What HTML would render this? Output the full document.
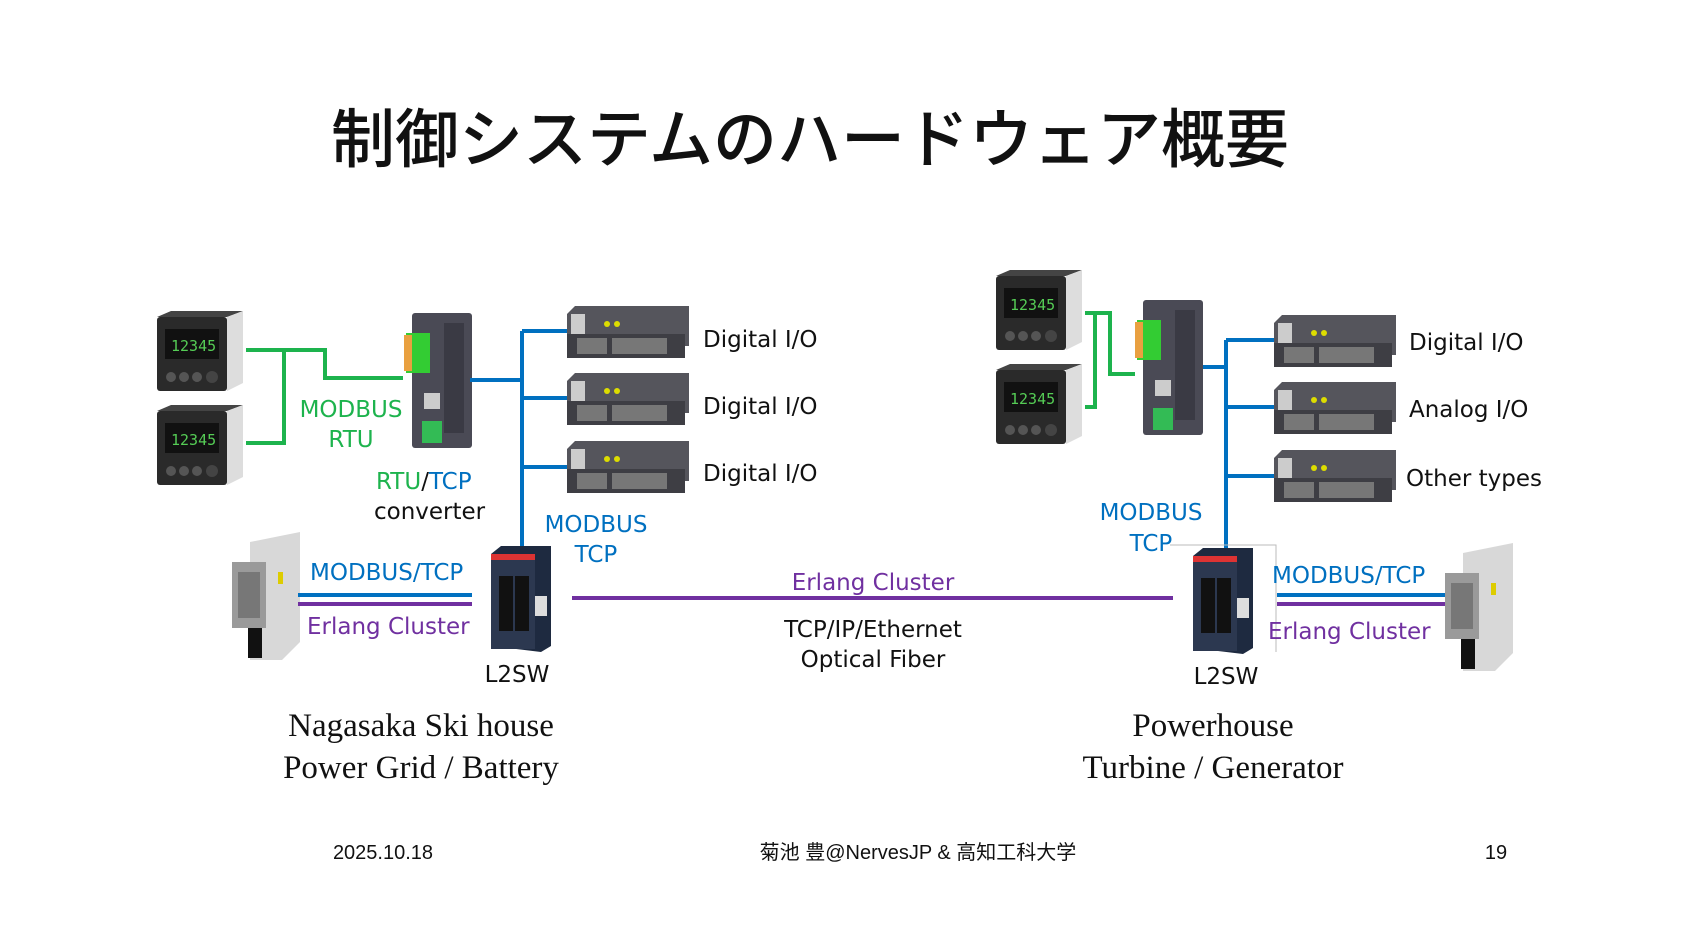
<!DOCTYPE html>
<html><head><meta charset="utf-8"><style>
html,body{margin:0;padding:0;background:#fff;}
svg{display:block;}
.l{font-family:"DejaVu Sans","Liberation Sans",sans-serif;font-size:23px;}
.s{font-family:"Liberation Serif",serif;font-size:33px;fill:#111;}
.f{font-family:"Liberation Sans","Noto Sans CJK JP",sans-serif;font-size:20px;fill:#111;}
</style></head><body>
<svg width="1684" height="947" viewBox="0 0 1684 947" xmlns="http://www.w3.org/2000/svg">
<defs>
<g id="ctl">
  <rect x="0" y="6" width="70" height="74" rx="3" fill="#2a2a2a"/>
  <polygon points="0,6 14,0 86,0 70,6" fill="#444"/>
  <polygon points="70,6 86,0 86,72 70,80" fill="#ddd"/>
  <rect x="8" y="18" width="54" height="30" fill="#111"/>
  <text x="14" y="40" font-family="DejaVu Sans Mono,monospace" font-size="15" fill="#5c5">12345</text>
  <circle cx="14" cy="66" r="5" fill="#555"/><circle cx="27" cy="66" r="5" fill="#555"/><circle cx="40" cy="66" r="5" fill="#555"/><circle cx="55" cy="66" r="6" fill="#444"/>
</g>
<g id="conv">
  <rect x="0" y="0" width="60" height="135" rx="3" fill="#4a4a55"/>
  <rect x="32" y="10" width="20" height="110" fill="#3a3a44"/>
  <rect x="-6" y="20" width="24" height="40" fill="#3c3"/>
  <rect x="-8" y="22" width="8" height="36" fill="#e9a040"/>
  <rect x="12" y="80" width="16" height="16" fill="#ccc"/>
  <rect x="10" y="108" width="20" height="22" fill="#3b5"/>
</g>
<g id="io">
  <polygon points="0,8 8,0 122,0 122,40 0,40" fill="#55555c"/>
  <rect x="0" y="28" width="118" height="24" fill="#3e3e44"/>
  <rect x="4" y="8" width="14" height="20" fill="#ccc"/>
  <circle cx="40" cy="18" r="3" fill="#dd0"/><circle cx="50" cy="18" r="3" fill="#dd0"/>
  <rect x="10" y="32" width="30" height="16" fill="#777"/><rect x="45" y="32" width="55" height="16" fill="#777"/>
</g>
<g id="sw">
  <polygon points="0,8 10,0 60,0 60,100 50,106 0,100" fill="#1e2a40"/>
  <rect x="0" y="8" width="44" height="95" fill="#2c3850"/>
  <rect x="0" y="8" width="44" height="6" fill="#d33"/>
  <rect x="8" y="30" width="14" height="55" fill="#111"/><rect x="24" y="30" width="14" height="55" fill="#111"/>
  <rect x="44" y="50" width="12" height="20" fill="#ddd"/>
</g>
<g id="srv">
  <polygon points="18,0 68,-10 68,100 50,118 18,118" fill="#d8d8d8"/>
  <rect x="0" y="20" width="34" height="66" fill="#9a9a9a"/>
  <rect x="6" y="30" width="22" height="46" fill="#777"/>
  <rect x="16" y="86" width="14" height="30" fill="#111"/>
  <rect x="46" y="30" width="5" height="12" fill="#dc0"/>
</g>
</defs>

<text x="810" y="162" text-anchor="middle" font-family="'Noto Sans CJK JP',sans-serif" font-size="64" font-weight="500" fill="#111">制御システムのハードウェア概要</text>

<!-- LEFT -->
<use href="#ctl" x="157" y="311"/>
<use href="#ctl" x="157" y="405"/>
<g stroke="#1db34d" stroke-width="4" fill="none">
<polyline points="246,350 325,350 325,378 403,378"/>
<polyline points="284,350 284,443 246,443"/>
</g>
<use href="#conv" x="412" y="313"/>
<text class="l" x="351" y="417" text-anchor="middle" fill="#1db34d">MODBUS</text>
<text class="l" x="351" y="447" text-anchor="middle" fill="#1db34d">RTU</text>
<text class="l" x="376" y="489"><tspan fill="#1db34d">RTU</tspan><tspan fill="#111">/</tspan><tspan fill="#0070c0">TCP</tspan></text>
<text class="l" x="374" y="519" fill="#111">converter</text>

<g stroke="#0070c0" stroke-width="4" fill="none">
<line x1="470" y1="380" x2="522" y2="380"/>
<line x1="522" y1="331" x2="522" y2="548"/>
<line x1="522" y1="331" x2="567" y2="331"/>
<line x1="522" y1="398" x2="567" y2="398"/>
<line x1="522" y1="467" x2="567" y2="467"/>
</g>
<use href="#io" x="567" y="306"/><use href="#io" x="567" y="373"/><use href="#io" x="567" y="441"/>
<text class="l" x="703" y="347" fill="#111">Digital I/O</text>
<text class="l" x="703" y="414" fill="#111">Digital I/O</text>
<text class="l" x="703" y="481" fill="#111">Digital I/O</text>
<text class="l" x="596" y="532" text-anchor="middle" fill="#0070c0">MODBUS</text>
<text class="l" x="596" y="562" text-anchor="middle" fill="#0070c0">TCP</text>

<use href="#sw" x="491" y="546"/>
<text class="l" x="517" y="682" text-anchor="middle" fill="#111">L2SW</text>
<use href="#srv" x="232" y="542"/>
<text class="l" x="310" y="580" fill="#0070c0">MODBUS/TCP</text>
<line x1="298" y1="595" x2="472" y2="595" stroke="#0070c0" stroke-width="4"/>
<line x1="298" y1="604" x2="472" y2="604" stroke="#7030a0" stroke-width="4"/>
<text class="l" x="307" y="634" fill="#7030a0">Erlang Cluster</text>

<!-- MIDDLE -->
<line x1="572" y1="598" x2="1173" y2="598" stroke="#7030a0" stroke-width="4"/>
<text class="l" x="873" y="590" text-anchor="middle" fill="#7030a0">Erlang Cluster</text>
<text class="l" x="873" y="637" text-anchor="middle" fill="#111">TCP/IP/Ethernet</text>
<text class="l" x="873" y="667" text-anchor="middle" fill="#111">Optical Fiber</text>

<!-- RIGHT -->
<use href="#ctl" x="996" y="270"/>
<use href="#ctl" x="996" y="364"/>
<g stroke="#1db34d" stroke-width="4" fill="none">
<polyline points="1085,313 1110,313 1110,374 1135,374"/>
<polyline points="1085,313 1095,313 1095,407 1085,407"/>
</g>
<use href="#conv" x="1143" y="300"/>
<g stroke="#0070c0" stroke-width="4" fill="none">
<line x1="1203" y1="367" x2="1226" y2="367"/>
<line x1="1226" y1="340" x2="1226" y2="548"/>
<line x1="1226" y1="340" x2="1274" y2="340"/>
<line x1="1226" y1="407" x2="1274" y2="407"/>
<line x1="1226" y1="476" x2="1274" y2="476"/>
</g>
<use href="#io" x="1274" y="315"/><use href="#io" x="1274" y="382"/><use href="#io" x="1274" y="450"/>
<text class="l" x="1409" y="350" fill="#111">Digital I/O</text>
<text class="l" x="1409" y="417" fill="#111">Analog I/O</text>
<text class="l" x="1406" y="486" fill="#111">Other types</text>
<text class="l" x="1151" y="520" text-anchor="middle" fill="#0070c0">MODBUS</text>
<text class="l" x="1151" y="551" text-anchor="middle" fill="#0070c0">TCP</text>
<polyline points="1170,545 1276,545 1276,652" stroke="#bbb" stroke-width="1" fill="none"/>
<use href="#sw" x="1193" y="548"/>
<text class="l" x="1226" y="684" text-anchor="middle" fill="#111">L2SW</text>
<use href="#srv" x="1445" y="553"/>
<text class="l" x="1272" y="583" fill="#0070c0">MODBUS/TCP</text>
<line x1="1277" y1="595" x2="1445" y2="595" stroke="#0070c0" stroke-width="4"/>
<line x1="1277" y1="604" x2="1445" y2="604" stroke="#7030a0" stroke-width="4"/>
<text class="l" x="1268" y="639" fill="#7030a0">Erlang Cluster</text>

<!-- captions -->
<text class="s" x="421" y="736" text-anchor="middle">Nagasaka Ski house</text>
<text class="s" x="421" y="778" text-anchor="middle">Power Grid / Battery</text>
<text class="s" x="1213" y="736" text-anchor="middle">Powerhouse</text>
<text class="s" x="1213" y="778" text-anchor="middle">Turbine / Generator</text>

<text class="f" x="383" y="859" text-anchor="middle">2025.10.18</text>
<text class="f" x="918" y="859" text-anchor="middle">菊池 豊@NervesJP &amp; 高知工科大学</text>
<text class="f" x="1496" y="859" text-anchor="middle">19</text>
</svg>
</body></html>
